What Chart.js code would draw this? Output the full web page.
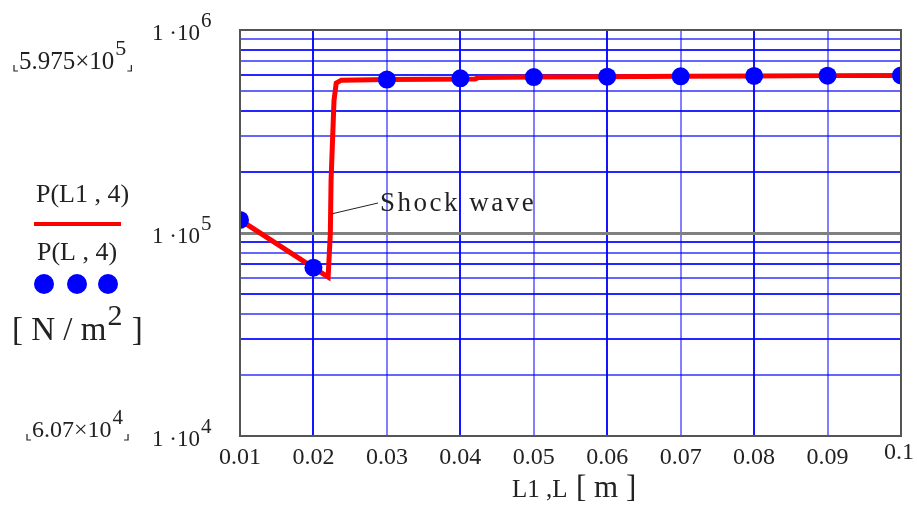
<!DOCTYPE html>
<html>
<head>
<meta charset="utf-8">
<script src="https://cdn.jsdelivr.net/npm/chart.js@4/dist/chart.umd.min.js"></script>
<style>
  body { margin: 0; background: #fff; }
  #wrap { width: 917px; height: 510px; }
</style>
</head>
<body>
<div id="wrap"><canvas id="myChart" width="917" height="510"></canvas></div>
<script>
  // DATA
  // the dots P(L,4)
  const L = [0.01, 0.02, 0.03, 0.04, 0.05, 0.06, 0.07, 0.08, 0.09, 0.1];
  const P_L = [1.16e5, 6.75e4, 5.70e5, 5.78e5, 5.86e5, 5.89e5, 5.91e5, 5.94e5, 5.96e5, 5.975e5];

  // the red curve P(L1,4)
  const L1 = [0.01, 0.02, 0.022, 0.0223, 0.0224, 0.0228, 0.0231, 0.0238, 0.03, 0.042, 0.0425, 0.05, 0.06, 0.07, 0.08, 0.09, 0.1];
  const P_L1 = [1.16e5, 6.75e4, 6.07e4, 1.0e5, 1.82e5, 4.5e5, 5.48e5, 5.66e5, 5.70e5, 5.74e5, 5.84e5, 5.86e5, 5.89e5, 5.91e5, 5.94e5, 5.96e5, 5.975e5];

  // axis ticks
  const xTicks = [0.01, 0.02, 0.03, 0.04, 0.05, 0.06, 0.07, 0.08, 0.09, 0.1];
  const xTickLabels = ['0.01', '0.02', '0.03', '0.04', '0.05', '0.06', '0.07', '0.08', '0.09', '0.1'];
  const yGrid = [1e4, 2e4, 3e4, 4e4, 5e4, 6e4, 7e4, 8e4, 9e4,
                 1e5, 2e5, 3e5, 4e5, 5e5, 6e5, 7e5, 8e5, 9e5, 1e6];
  const yLabelExponents = [4, 5, 6];

  const SERIF = '"Liberation Serif", "DejaVu Serif", serif';

  // drawing all the mathcad style text + frame
  const mathcadText = {
    id: 'mathcadText',
    afterDraw(chart) {
      const ctx = chart.ctx;
      const xs = chart.scales.x, ys = chart.scales.y;
      const area = chart.chartArea;
      ctx.save();

      // frame round the plot
      ctx.strokeStyle = '#555';
      ctx.lineWidth = 2;
      ctx.strokeRect(area.left, area.top, area.right - area.left, area.bottom - area.top);

      ctx.fillStyle = '#222';
      ctx.textBaseline = 'middle';

      // y labels  1 ·10^n
      yLabelExponents.forEach(function (e) {
        const y = ys.getPixelForValue(Math.pow(10, e)) + 4;
        ctx.font = '23px ' + SERIF;
        ctx.textAlign = 'left';
        ctx.fillText('1 \u00b710', 152, y);
        const w = ctx.measureText('1 \u00b710').width;
        ctx.font = '21px ' + SERIF;
        ctx.fillText(String(e), 152 + w + 1, y - 13);
      });

      // x tick labels
      ctx.font = '24px ' + SERIF;
      ctx.textAlign = 'center';
      xTicks.forEach(function (v, i) {
        const x = xs.getPixelForValue(v);
        const y = i === xTicks.length - 1 ? 453 : 458;
        ctx.fillText(xTickLabels[i], i === xTicks.length - 1 ? x - 2 : x, y);
      });

      // x title
      ctx.textAlign = 'left';
      ctx.font = '25px ' + SERIF;
      ctx.fillText('L1 ,L', 512, 490);
      ctx.font = '31px ' + SERIF;
      ctx.fillText('[ m ]', 576, 489);

      // min / max markers
      function marker(txt, sup, x, y, size) {
        ctx.font = size + 'px ' + SERIF;
        ctx.textAlign = 'left';
        ctx.fillText(txt, x, y);
        const w = ctx.measureText(txt).width;
        ctx.font = (size - 3) + 'px ' + SERIF;
        ctx.fillText(sup, x + w + 1, y - 13);
        const w2 = ctx.measureText(sup).width;
        ctx.strokeStyle = '#222';
        ctx.lineWidth = 1.2;
        ctx.beginPath();
        ctx.moveTo(x - 5, y + 3); ctx.lineTo(x - 5, y + 9); ctx.lineTo(x - 1, y + 9);
        ctx.moveTo(x + w + w2 + 2, y + 9); ctx.lineTo(x + w + w2 + 6, y + 9); ctx.lineTo(x + w + w2 + 6, y + 3);
        ctx.stroke();
      }
      marker('5.975\u00d710', '5', 19, 62, 25);
      marker('6.07\u00d710', '4', 32, 431, 24);

      // legend on the left
      ctx.font = '26px ' + SERIF;
      ctx.textAlign = 'left';
      ctx.fillText('P(L1 , 4)', 36, 195);
      ctx.strokeStyle = '#ff0000';
      ctx.lineWidth = 4;
      ctx.beginPath();
      ctx.moveTo(34, 224); ctx.lineTo(121, 224);
      ctx.stroke();
      ctx.fillStyle = '#222';
      ctx.fillText('P(L , 4)', 37, 253);
      ctx.fillStyle = '#0000ff';
      [44, 77, 108].forEach(function (cx) {
        ctx.beginPath();
        ctx.arc(cx, 284, 10, 0, Math.PI * 2);
        ctx.fill();
      });
      ctx.fillStyle = '#222';
      ctx.font = '33px ' + SERIF;
      ctx.fillText('[ N / m', 12, 331);
      let wN = ctx.measureText('[ N / m').width;
      ctx.font = '30px ' + SERIF;
      ctx.fillText('2', 12 + wN + 1, 317);
      let w2 = ctx.measureText('2').width;
      ctx.font = '33px ' + SERIF;
      ctx.fillText(' ]', 12 + wN + w2 + 2, 331);

      // shock wave note
      ctx.font = '27px ' + SERIF;
      if ('letterSpacing' in ctx) ctx.letterSpacing = '2.5px';
      ctx.fillText('Shock wave', 380, 204);
      if ('letterSpacing' in ctx) ctx.letterSpacing = '0px';
      ctx.strokeStyle = '#222';
      ctx.lineWidth = 1;
      ctx.beginPath();
      ctx.moveTo(xs.getPixelForValue(0.0224), 214);
      ctx.lineTo(378, 203);
      ctx.stroke();

      ctx.restore();
    }
  };

  const data = {
    datasets: [
      {
        label: 'P(L,4)',
        data: L.map((x, i) => ({ x: x, y: P_L[i] })),
        showLine: false,
        pointRadius: 9,
        pointBackgroundColor: '#0000ff',
        pointBorderWidth: 0,
        clip: 0,
        order: 0
      },
      {
        label: 'P(L1,4)',
        data: L1.map((x, i) => ({ x: x, y: P_L1[i] })),
        showLine: true,
        borderColor: '#ff0000',
        borderWidth: 5,
        pointRadius: 0,
        tension: 0,
        clip: 0,
        order: 1
      }
    ]
  };

  const config = {
    type: 'scatter',
    data,
    options: {
      responsive: false,
      animation: false,
      events: [],
      layout: { padding: { left: 240, top: 30, right: 16, bottom: 74 } },
      plugins: {
        legend: { display: false },
        tooltip: { enabled: false }
      },
      scales: {
        x: {
          type: 'linear',
          min: 0.01,
          max: 0.1,
          afterBuildTicks: s => { s.ticks = xTicks.map(v => ({ value: v })); },
          afterFit: s => { s.height = 0; },
          ticks: { display: false },
          border: { display: false },
          grid: {
            drawTicks: false,
            lineWidth: 2,
            color: c => (c.index % 2 === 1 ? 'rgba(0,0,255,0.92)' : 'rgba(0,0,255,0.5)')
          }
        },
        y: {
          type: 'logarithmic',
          min: 1e4,
          max: 1e6,
          afterBuildTicks: s => { s.ticks = yGrid.map(v => ({ value: v })); },
          afterFit: s => { s.width = 0; },
          ticks: { display: false },
          border: { display: false },
          grid: {
            drawTicks: false,
            lineWidth: c => (c.tick && c.tick.value === 1e5 ? 3 : 2),
            color: c => {
              if (c.tick && c.tick.value === 1e5) return '#808080';
              return c.index % 2 === 0 ? 'rgba(0,0,255,0.85)' : 'rgba(0,0,255,0.6)';
            }
          }
        }
      }
    },
    plugins: [mathcadText]
  };

  var myChart = new Chart(document.getElementById('myChart'), config);
</script>
</body>
</html>
